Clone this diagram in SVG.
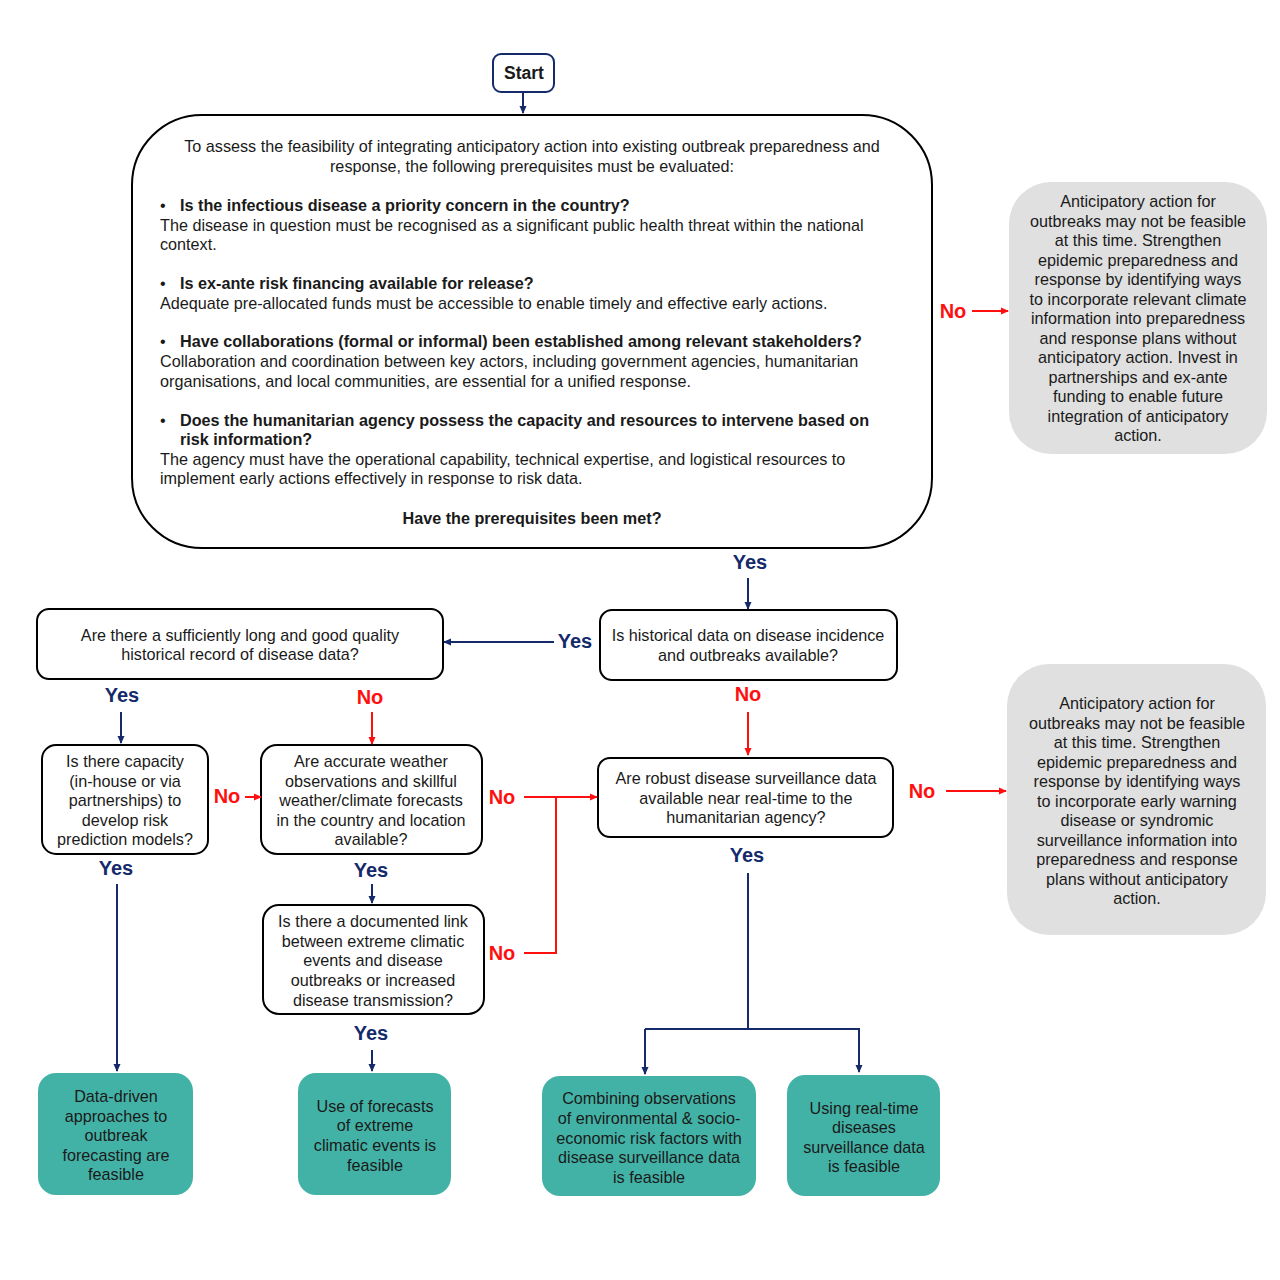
<svg xmlns="http://www.w3.org/2000/svg" width="1280" height="1280" viewBox="0 0 1280 1280">
<defs>
<marker id="an" markerWidth="8" markerHeight="8" refX="7" refY="4" orient="auto" markerUnits="userSpaceOnUse"><path d="M0,0.5 L8,4 L0,7.5 Z" fill="#142a6b"/></marker>
<marker id="ar" markerWidth="8" markerHeight="8" refX="7" refY="4" orient="auto" markerUnits="userSpaceOnUse"><path d="M0,0.5 L8,4 L0,7.5 Z" fill="#ff1010"/></marker>
<style>
text{font-family:"Liberation Sans",Arial,sans-serif;font-size:16.2px;fill:#1a1a1a}
.c{text-anchor:middle}
.b{font-weight:bold}
.yes{font-weight:bold;font-size:20px;fill:#142a6b;text-anchor:middle}
.no{font-weight:bold;font-size:20px;fill:#ff1010;text-anchor:middle}
.q{fill:#fff;stroke:#000;stroke-width:2}
.g{fill:#e0e0e0}
.t{fill:#43b2a6}
.ln{fill:none;stroke:#142a6b;stroke-width:2}
.lr{fill:none;stroke:#ff1010;stroke-width:2}
</style>
</defs>
<rect width="1280" height="1280" fill="#fff"/>

<g id="start">
<rect x="493" y="54" width="61" height="38" rx="8" fill="#fff" stroke="#142a6b" stroke-width="2"/>
<text x="524" y="79" class="c b" style="font-size:17.5px">Start</text>
</g>

<g id="prereq">
<rect x="132" y="115" width="800" height="433" rx="70" class="q"/>
<text x="532" y="152" class="c">To assess the feasibility of integrating anticipatory action into existing outbreak preparedness and</text>
<text x="532" y="172" class="c">response, the following prerequisites must be evaluated:</text>
<text x="160" y="211">•</text>
<text x="180" y="211" class="b">Is the infectious disease a priority concern in the country?</text>
<text x="160" y="231">The disease in question must be recognised as a significant public health threat within the national</text>
<text x="160" y="250">context.</text>
<text x="160" y="289">•</text>
<text x="180" y="289" class="b">Is ex-ante risk financing available for release?</text>
<text x="160" y="309">Adequate pre-allocated funds must be accessible to enable timely and effective early actions.</text>
<text x="160" y="347">•</text>
<text x="180" y="347" class="b">Have collaborations (formal or informal) been established among relevant stakeholders?</text>
<text x="160" y="367">Collaboration and coordination between key actors, including government agencies, humanitarian</text>
<text x="160" y="387">organisations, and local communities, are essential for a unified response.</text>
<text x="160" y="426">•</text>
<text x="180" y="426" class="b">Does the humanitarian agency possess the capacity and resources to intervene based on</text>
<text x="180" y="445" class="b">risk information?</text>
<text x="160" y="465">The agency must have the operational capability, technical expertise, and logistical resources to</text>
<text x="160" y="484">implement early actions effectively in response to risk data.</text>
<text x="532" y="524" class="c b">Have the prerequisites been met?</text>
</g>

<g id="notfeasible1">
<rect x="1009" y="182" width="258" height="272" rx="42" class="g"/>
<text class="c" x="1138" y="207">Anticipatory action for</text>
<text class="c" x="1138" y="227">outbreaks may not be feasible</text>
<text class="c" x="1138" y="246">at this time. Strengthen</text>
<text class="c" x="1138" y="266">epidemic preparedness and</text>
<text class="c" x="1138" y="285">response by identifying ways</text>
<text class="c" x="1138" y="305">to incorporate relevant climate</text>
<text class="c" x="1138" y="324">information into preparedness</text>
<text class="c" x="1138" y="344">and response plans without</text>
<text class="c" x="1138" y="363">anticipatory action. Invest in</text>
<text class="c" x="1138" y="383">partnerships and ex-ante</text>
<text class="c" x="1138" y="402">funding to enable future</text>
<text class="c" x="1138" y="422">integration of anticipatory</text>
<text class="c" x="1138" y="441">action.</text>
</g>

<g id="historical">
<rect x="600" y="610" width="297" height="70" rx="12" class="q"/>
<text class="c" x="748" y="641">Is historical data on disease incidence</text>
<text class="c" x="748" y="661">and outbreaks available?</text>
</g>

<g id="record">
<rect x="37" y="609" width="406" height="70" rx="12" class="q"/>
<text class="c" x="240" y="641">Are there a sufficiently long and good quality</text>
<text class="c" x="240" y="660">historical record of disease data?</text>
</g>

<g id="capacity">
<rect x="42" y="745" width="166" height="109" rx="14" class="q"/>
<text class="c" x="125" y="767">Is there capacity</text>
<text class="c" x="125" y="787">(in-house or via</text>
<text class="c" x="125" y="806">partnerships) to</text>
<text class="c" x="125" y="826">develop risk</text>
<text class="c" x="125" y="845">prediction models?</text>
</g>

<g id="weather">
<rect x="261" y="745" width="221" height="109" rx="16" class="q"/>
<text class="c" x="371" y="767">Are accurate weather</text>
<text class="c" x="371" y="787">observations and skillful</text>
<text class="c" x="371" y="806">weather/climate forecasts</text>
<text class="c" x="371" y="826">in the country and location</text>
<text class="c" x="371" y="845">available?</text>
</g>

<g id="surveillance">
<rect x="598" y="758" width="295" height="79" rx="12" class="q"/>
<text class="c" x="746" y="784">Are robust disease surveillance data</text>
<text class="c" x="746" y="804">available near real-time to the</text>
<text class="c" x="746" y="823">humanitarian agency?</text>
</g>

<g id="notfeasible2">
<rect x="1007" y="664" width="259" height="271" rx="42" class="g"/>
<text class="c" x="1137" y="709">Anticipatory action for</text>
<text class="c" x="1137" y="729">outbreaks may not be feasible</text>
<text class="c" x="1137" y="748">at this time. Strengthen</text>
<text class="c" x="1137" y="768">epidemic preparedness and</text>
<text class="c" x="1137" y="787">response by identifying ways</text>
<text class="c" x="1137" y="807">to incorporate early warning</text>
<text class="c" x="1137" y="826">disease or syndromic</text>
<text class="c" x="1137" y="846">surveillance information into</text>
<text class="c" x="1137" y="865">preparedness and response</text>
<text class="c" x="1137" y="885">plans without anticipatory</text>
<text class="c" x="1137" y="904">action.</text>
</g>

<g id="link">
<rect x="263" y="905" width="221" height="109" rx="16" class="q"/>
<text class="c" x="373" y="927">Is there a documented link</text>
<text class="c" x="373" y="947">between extreme climatic</text>
<text class="c" x="373" y="966">events and disease</text>
<text class="c" x="373" y="986">outbreaks or increased</text>
<text class="c" x="373" y="1006">disease transmission?</text>
</g>

<g id="outcome1">
<rect x="38" y="1073" width="155" height="122" rx="18" class="t"/>
<text class="c" x="116" y="1102">Data-driven</text>
<text class="c" x="116" y="1122">approaches to</text>
<text class="c" x="116" y="1141">outbreak</text>
<text class="c" x="116" y="1161">forecasting are</text>
<text class="c" x="116" y="1180">feasible</text>
</g>

<g id="outcome2">
<rect x="298" y="1073" width="153" height="122" rx="18" class="t"/>
<text class="c" x="375" y="1112">Use of forecasts</text>
<text class="c" x="375" y="1131">of extreme</text>
<text class="c" x="375" y="1151">climatic events is</text>
<text class="c" x="375" y="1171">feasible</text>
</g>

<g id="outcome3">
<rect x="542" y="1076" width="214" height="120" rx="18" class="t"/>
<text class="c" x="649" y="1104">Combining observations</text>
<text class="c" x="649" y="1124">of environmental &amp; socio-</text>
<text class="c" x="649" y="1144">economic risk factors with</text>
<text class="c" x="649" y="1163">disease surveillance data</text>
<text class="c" x="649" y="1183">is feasible</text>
</g>

<g id="outcome4">
<rect x="787" y="1075" width="153" height="121" rx="18" class="t"/>
<text class="c" x="864" y="1114">Using real-time</text>
<text class="c" x="864" y="1133">diseases</text>
<text class="c" x="864" y="1153">surveillance data</text>
<text class="c" x="864" y="1172">is feasible</text>
</g>

<g id="connectors">
<line x1="523" y1="92" x2="523" y2="113" class="ln" marker-end="url(#an)"/>
<text x="953" y="318" class="no">No</text>
<line x1="972" y1="311" x2="1008" y2="311" class="lr" marker-end="url(#ar)"/>
<text x="750" y="569" class="yes">Yes</text>
<line x1="748" y1="578" x2="748" y2="609" class="ln" marker-end="url(#an)"/>
<text x="575" y="648" class="yes">Yes</text>
<line x1="554" y1="642" x2="444" y2="642" class="ln" marker-end="url(#an)"/>
<text x="122" y="702" class="yes">Yes</text>
<line x1="121" y1="712" x2="121" y2="743" class="ln" marker-end="url(#an)"/>
<text x="370" y="704" class="no">No</text>
<line x1="372" y1="712" x2="372" y2="744" class="lr" marker-end="url(#ar)"/>
<text x="227" y="803" class="no">No</text>
<line x1="245" y1="797" x2="261" y2="797" class="lr" marker-end="url(#ar)"/>
<text x="502" y="804" class="no">No</text>
<line x1="524" y1="797" x2="597" y2="797" class="lr" marker-end="url(#ar)"/>
<polyline points="524,953 556,953 556,797" class="lr"/>
<text x="502" y="960" class="no">No</text>
<text x="748" y="701" class="no">No</text>
<line x1="748" y1="712" x2="748" y2="755" class="lr" marker-end="url(#ar)"/>
<text x="922" y="798" class="no">No</text>
<line x1="946" y1="791" x2="1006" y2="791" class="lr" marker-end="url(#ar)"/>
<text x="747" y="862" class="yes">Yes</text>
<line x1="748" y1="873" x2="748" y2="1029" class="ln"/>
<polyline points="645,1029 859,1029 859,1072" class="ln" marker-end="url(#an)"/>
<line x1="645" y1="1029" x2="645" y2="1074" class="ln" marker-end="url(#an)"/>
<text x="371" y="877" class="yes">Yes</text>
<line x1="372" y1="884" x2="372" y2="903" class="ln" marker-end="url(#an)"/>
<text x="371" y="1040" class="yes">Yes</text>
<line x1="372" y1="1050" x2="372" y2="1071" class="ln" marker-end="url(#an)"/>
<text x="116" y="875" class="yes">Yes</text>
<line x1="117" y1="884" x2="117" y2="1071" class="ln" marker-end="url(#an)"/>
</g>
</svg>
